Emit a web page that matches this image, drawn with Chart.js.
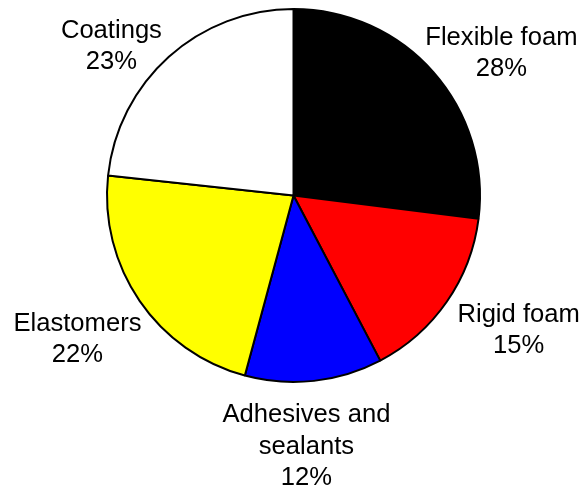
<!DOCTYPE html>
<html>
<head>
<meta charset="utf-8">
<script src="https://cdn.jsdelivr.net/npm/chart.js@4/dist/chart.umd.min.js"></script>
<style>
  html, body { margin: 0; padding: 0; background: #fff; }
  #wrap { width: 583px; height: 493px; }
</style>
</head>
<body>
<div id="wrap"><canvas id="grafico" width="583" height="493"></canvas></div>
<script>
// dados do grafico
var categorias = ['Flexible foam', 'Rigid foam', 'Adhesives and sealants', 'Elastomers', 'Coatings'];
var rotulos = [['Flexible foam'], ['Rigid foam'], ['Adhesives and', 'sealants'], ['Elastomers'], ['Coatings']];
// tamanho das fatias medido no desenho
var valores = [27.0, 15.3, 11.9, 22.5, 23.3];
// percentuais escritos nos rotulos
var percentuais = ['28%', '15%', '12%', '22%', '23%'];
var cores = ['#000000', '#ff0000', '#0000ff', '#ffff00', '#ffffff'];

// escreve os rotulos fora da pizza
var rotulosFora = {
    id: 'rotulosFora',
    afterDatasetsDraw: function (chart, args, opts) {
        var ctx = chart.ctx;
        var meta = chart.getDatasetMeta(0);
        ctx.save();
        ctx.font = '25.6px "Liberation Sans", Arial, sans-serif';
        ctx.fillStyle = '#000';
        ctx.textAlign = 'center';
        ctx.textBaseline = 'middle';
        meta.data.forEach(function (arco, i) {
            var meio = (arco.startAngle + arco.endAngle) / 2;
            var dist = arco.outerRadius + opts.distancia;
            var ajuste = opts.ajustes[i];
            var cx = arco.x + Math.cos(meio) * dist + ajuste[0];
            var cy = arco.y + Math.sin(meio) * dist + ajuste[1];
            var linhas = rotulos[i].concat([percentuais[i]]);
            var alt = 31.5;
            var y0 = cy - (linhas.length - 1) * alt / 2;
            linhas.forEach(function (t, k) {
                ctx.fillText(t, cx, y0 + k * alt);
            });
        });
        ctx.restore();
    }
};

var ctx = document.getElementById('grafico').getContext('2d');
var grafico = new Chart(ctx, {
    type: 'pie',
    data: {
        labels: categorias,
        datasets: [{
            data: valores,
            backgroundColor: cores,
            borderColor: '#000000',
            borderWidth: 2
        }]
    },
    options: {
        responsive: false,
        animation: false,
        devicePixelRatio: 1,
        layout: { padding: { top: 8, bottom: 110, left: 106, right: 102 } },
        plugins: {
            legend: { display: false },
            tooltip: { enabled: false },
            rotulosFora: {
                distancia: 68,
                ajustes: [[17, 26], [16, -10], [-15, -2], [-6, 0], [-12, 40]]
            }
        }
    },
    plugins: [rotulosFora]
});
</script>
</body>
</html>
